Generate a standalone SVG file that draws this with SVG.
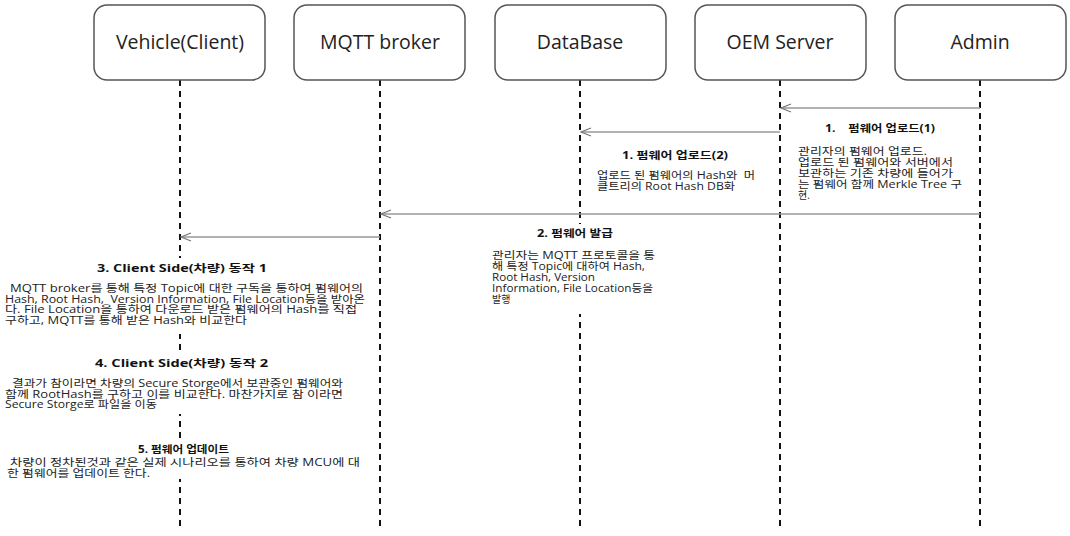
<svg xmlns="http://www.w3.org/2000/svg" width="1070" height="536" viewBox="0 0 1070 536">
<style>
.box{fill:#fff;stroke:#555;stroke-width:1.5}
.lbl{font-family:"Open Sans","Noto Sans CJK KR",sans-serif;font-size:19.5px;fill:#222;text-anchor:middle}
.life{stroke:#111;stroke-width:2;stroke-dasharray:6 5;fill:none}
.msg{stroke:#999;stroke-width:1.3;fill:none;marker-end:url(#arr)}
.h{font-family:"Open Sans","Noto Sans CJK KR",sans-serif;font-size:10.5px;font-weight:bold;fill:#111}
.t{font-family:"Open Sans","Noto Sans CJK KR",sans-serif;font-size:10px;fill:#222}
.bg{fill:#fff}
</style>
<defs>
<marker id="arr" markerWidth="12" markerHeight="10" refX="11" refY="5" orient="auto" markerUnits="userSpaceOnUse">
<path d="M1,1 L11,5 L1,9" fill="none" stroke="#777" stroke-width="1.3"/>
</marker>
</defs>
<rect width="1070" height="536" fill="#fff"/>
<g id="lifelines">
<line class="life" x1="180" y1="80" x2="180" y2="528"/>
<line class="life" x1="380" y1="80" x2="380" y2="528"/>
<line class="life" x1="580" y1="80" x2="580" y2="528"/>
<line class="life" x1="780" y1="80" x2="780" y2="528"/>
<line class="life" x1="980" y1="80" x2="980" y2="528"/>
</g>
<g id="node-vehicle"><rect class="box" x="94" y="5" width="171" height="75" rx="13"/><text class="lbl" x="180" y="49">Vehicle(Client)</text></g>
<g id="node-mqtt"><rect class="box" x="294" y="5" width="171" height="75" rx="13"/><text class="lbl" x="380" y="49">MQTT broker</text></g>
<g id="node-db"><rect class="box" x="495" y="5" width="171" height="75" rx="13"/><text class="lbl" x="580" y="49">DataBase</text></g>
<g id="node-oem"><rect class="box" x="695" y="5" width="171" height="75" rx="13"/><text class="lbl" x="780" y="49">OEM Server</text></g>
<g id="node-admin"><rect class="box" x="895" y="5" width="171" height="75" rx="13"/><text class="lbl" x="980" y="49">Admin</text></g>
<g id="connectors">
<line class="msg" x1="980" y1="108" x2="781" y2="108"/>
<line class="msg" x1="780" y1="132" x2="581" y2="132"/>
<line class="msg" x1="980" y1="214" x2="381" y2="214"/>
<line class="msg" x1="380" y1="237" x2="181" y2="237"/>
</g>
<g id="note1">
<text class="h" x="825" y="132" textLength="110" lengthAdjust="spacingAndGlyphs">1.&#160;&#160;&#160; 펌웨어 업로드(1)</text>
<text class="t"><tspan x="798" y="155" textLength="129" lengthAdjust="spacingAndGlyphs">관리자의 펌웨어 업로드.</tspan><tspan x="798" y="166" textLength="155" lengthAdjust="spacingAndGlyphs">업로드 된 펌웨어와 서버에서</tspan><tspan x="798" y="177" textLength="155" lengthAdjust="spacingAndGlyphs">보관하는 기존 차량에 들어가</tspan><tspan x="798" y="188" textLength="164" lengthAdjust="spacingAndGlyphs">는 펌웨어 함께 Merkle Tree 구</tspan><tspan x="798" y="199">현.</tspan></text>
</g>
<g id="note2">
<text class="h" x="622" y="159" textLength="106" lengthAdjust="spacingAndGlyphs">1. 펌웨어 업로드(2)</text>
<text class="t"><tspan x="597" y="179" textLength="158" lengthAdjust="spacingAndGlyphs">업로드 된 펌웨어의 Hash와&#160;&#160;머</tspan><tspan x="597" y="190" textLength="138" lengthAdjust="spacingAndGlyphs">클트리의 Root Hash DB화</tspan></text>
</g>
<g id="note3">
<rect class="bg" x="570" y="224" width="20" height="90"/>
<text class="h" x="537" y="237" textLength="76" lengthAdjust="spacingAndGlyphs">2. 펌웨어 발급</text>
<text class="t"><tspan x="492" y="259" textLength="163" lengthAdjust="spacingAndGlyphs">관리자는 MQTT 프로토콜을 통</tspan><tspan x="492" y="270" textLength="153" lengthAdjust="spacingAndGlyphs">해 특정 Topic에 대하여 Hash,</tspan><tspan x="492" y="281" textLength="103" lengthAdjust="spacingAndGlyphs">Root Hash, Version</tspan><tspan x="492" y="292" textLength="161" lengthAdjust="spacingAndGlyphs">Information, File Location등을</tspan><tspan x="492" y="303">발행</tspan></text>
</g>
<g id="note4">
<rect class="bg" x="170" y="258" width="20" height="76"/>
<text class="h" x="97" y="272" textLength="170" lengthAdjust="spacingAndGlyphs">3. Client Side(차량) 동작 1</text>
<text class="t"><tspan x="10" y="292" textLength="353" lengthAdjust="spacingAndGlyphs">MQTT broker를 통해 특정 Topic에 대한 구독을 통하여 펌웨어의</tspan><tspan x="5" y="302.5" textLength="360" lengthAdjust="spacingAndGlyphs">Hash, Root Hash,&#160; Version Information, File Location등을 받아온</tspan><tspan x="5" y="313" textLength="352" lengthAdjust="spacingAndGlyphs">다. File Location을 통하여 다운로드 받은 펌웨어의 Hash를 직접</tspan><tspan x="5" y="323.5" textLength="242" lengthAdjust="spacingAndGlyphs">구하고, MQTT를 통해 받은 Hash와 비교한다</tspan></text>
</g>
<g id="note5">
<rect class="bg" x="170" y="352" width="20" height="62"/>
<text class="h" x="95" y="367" textLength="173" lengthAdjust="spacingAndGlyphs">4. Client Side(차량) 동작 2</text>
<text class="t"><tspan x="12" y="387" textLength="331" lengthAdjust="spacingAndGlyphs">결과가 참이라면 차량의 Secure Storge에서 보관중인 펌웨어와</tspan><tspan x="5" y="397.5" textLength="338" lengthAdjust="spacingAndGlyphs">함께 RootHash를 구하고 이를 비교한다. 마찬가지로 참 이라면</tspan><tspan x="5" y="408" textLength="152" lengthAdjust="spacingAndGlyphs">Secure Storge로 파일을 이동</tspan></text>
</g>
<g id="note6">
<rect class="bg" x="170" y="442" width="20" height="37"/>
<text class="h" x="138" y="453" textLength="91" lengthAdjust="spacingAndGlyphs">5. 펌웨어 업데이트</text>
<text class="t"><tspan x="10" y="466" textLength="350" lengthAdjust="spacingAndGlyphs">차량이 정차된것과 같은 실제 시나리오를 통하여 차량 MCU에 대</tspan><tspan x="7" y="476.5" textLength="143" lengthAdjust="spacingAndGlyphs">한 펌웨어를 업데이트 한다.</tspan></text>
</g>
</svg>
